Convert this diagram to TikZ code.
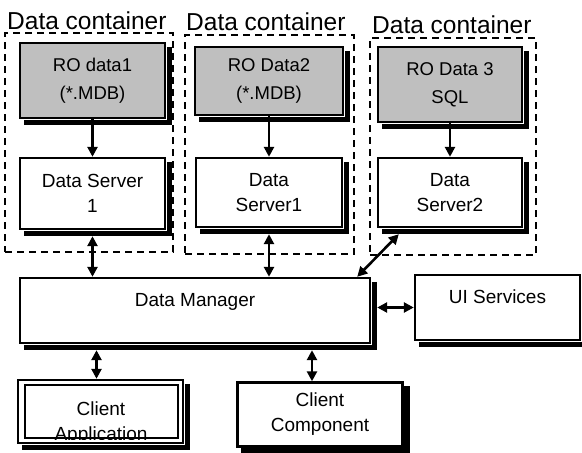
\documentclass[tikz,border=0pt]{standalone}
\usepackage{fontspec}
\setmainfont{Liberation Sans}
\usetikzlibrary{arrows.meta}
\begin{document}
\begin{tikzpicture}[x=1pt,y=-1pt,
  every node/.style={font=\fontsize{19}{25}\selectfont},
  box/.style={draw=black, line width=2.4pt, fill=white, align=center, inner sep=0pt},
  graybox/.style={box, fill=gray!50, font=\fontsize{18.5}{28}\selectfont},
  container/.style={draw=black, line width=2.2pt, dash pattern=on 7pt off 5pt, inner sep=0pt},
  title/.style={font=\fontsize{24.5}{26}\selectfont, anchor=base west, inner sep=0pt},
  shadeline/.style={draw=black, line width=5.5pt, line join=miter},
  link/.style={line width=2.6pt, -{Triangle[length=10pt,width=10pt]}},
  dlink/.style={line width=2.6pt, {Triangle[length=10pt,width=10pt]}-{Triangle[length=10pt,width=10pt]}}
]
\useasboundingbox (0,0) rectangle (582,453);

% containers
\node[container, minimum width=168pt, minimum height=219pt] (c1) at (89,142.5) {};
\node[container, minimum width=169pt, minimum height=219pt] (c2) at (269.5,144.5) {};
\node[container, minimum width=166pt, minimum height=217pt] (c3) at (453,146.5) {};
\node[title] (t1) at (7,29) {Data container};
\node[title] (t2) at (186,30) {Data container};
\node[title] (t3) at (372,33) {Data container};

% data sources
\node[graybox, minimum width=145pt, minimum height=75pt] (g1) at (92.5,80.5) {RO data1\\(*.MDB)};
\node[graybox, minimum width=148pt, minimum height=68pt] (g2) at (269,81) {RO Data2\\(*.MDB)};
\node[graybox, minimum width=144pt, minimum height=75pt] (g3) at (450,84.5) {RO Data 3\\SQL};

% servers
\node[box, minimum width=145pt, minimum height=71pt] (s1) at (92.5,193.5) {Data Server\\1};
\node[box, minimum width=146pt, minimum height=69pt] (s2) at (269,192.5) {Data\\Server1};
\node[box, minimum width=144pt, minimum height=69pt] (s3) at (450,192.5) {Data\\Server2};

% manager and services
\node[box, minimum width=350pt, minimum height=65pt, text height=13.5pt, text depth=21pt] (dm) at (195,310.5) {Data Manager};
\node[box, minimum width=165pt, minimum height=65pt, text height=13.5pt, text depth=21pt] (ui) at (497.5,307.5) {UI Services};

% clients
\node[box, minimum width=165pt, minimum height=63pt] (ca) at (100.5,411.5) {};
\node[draw=black, line width=2.4pt, minimum width=153pt, minimum height=53pt, inner sep=0pt] (cai) at (101.5,411.5) {};
\begin{scope}
  \clip (cai.south west) rectangle (cai.north east);
  \node[align=center, inner sep=0pt] (catext) at (101,423) {Client\\Application};
\end{scope}
\node[box, minimum width=165pt, minimum height=64pt] (cc) at (320,414.5) {Client\\Component};

% drop shadows along right and bottom edges
\foreach \nd in {g1,g2,g3,s1,s2,s3,dm,ui,ca,cc}{
  \draw[shadeline] ([xshift=3.5pt,yshift=-5pt]\nd.north east) -- ([xshift=3.5pt,yshift=-3.5pt]\nd.south east) -- ([xshift=5pt,yshift=-3.5pt]\nd.south west);
}

% connectors
\draw[link] (g1.south) -- (s1.north);
\draw[link] (g2.south) -- (s2.north);
\draw[link] (g3.south) -- (s3.north);
\draw[dlink] ([yshift=-6pt]s1.south) -- (s1.south |- dm.north);
\draw[dlink] ([yshift=-6pt]s2.south) -- (s2.south |- dm.north);
\draw[dlink] ([xshift=22pt,yshift=-6pt]s3.south west) -- ([xshift=-14pt]dm.north east);
\draw[dlink] ([xshift=6pt,yshift=3pt]dm.east) -- ([yshift=3pt]dm.east -| ui.west);
\draw[dlink] ([xshift=-4pt,yshift=-6pt]dm.south -| ca.north) -- ([xshift=-4pt]ca.north);
\draw[dlink] ([xshift=-8pt,yshift=-6pt]dm.south -| cc.north) -- ([xshift=-8pt]cc.north);
\end{tikzpicture}
\end{document}
